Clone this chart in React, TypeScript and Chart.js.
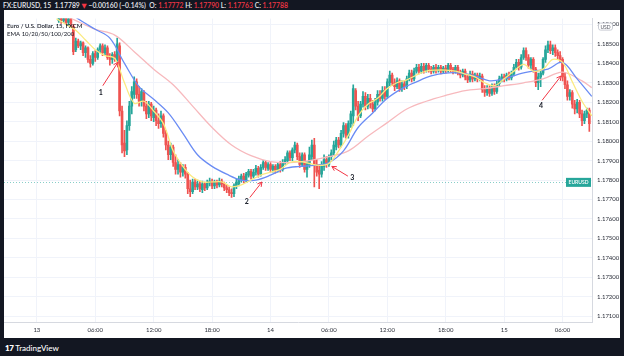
import React, { useEffect, useRef } from "react";
import { Chart, registerables } from "chart.js";
Chart.register(...registerables);

// 15-minute candles, index counted in quarter hours from 13th 00:00
const FIRST_INDEX = 9;
const timeTickIndex = [0, 24, 48, 72, 96, 120, 144, 168, 192, 216];
const timeTickLabels = ["13", "06:00", "12:00", "18:00", "14", "06:00", "12:00", "18:00", "15", "06:00"];
const priceTicks = [1.171, 1.172, 1.173, 1.174, 1.175, 1.176, 1.177, 1.178, 1.179, 1.18, 1.181, 1.182, 1.183, 1.184, 1.185, 1.186];
const LAST_PRICE = 1.17788;

const open = [
  1.18620, 1.18640, 1.18620, 1.18635, 1.18610, 1.18630, 1.18590, 1.18470, 1.18515, 1.18490,
  1.18505, 1.18455, 1.18480, 1.18420, 1.18400, 1.18450, 1.18430, 1.18470, 1.18490, 1.18455,
  1.18480, 1.18430, 1.18420, 1.18445, 1.18420, 1.18490, 1.18155, 1.17990, 1.17955, 1.18080,
  1.18180, 1.18240, 1.18305, 1.18240, 1.18205, 1.18250, 1.18180, 1.18140, 1.18190, 1.18120,
  1.18160, 1.18105, 1.18090, 1.18130, 1.18040, 1.17980, 1.17930, 1.17970, 1.17890, 1.17855,
  1.17880, 1.17840, 1.17865, 1.17830, 1.17755, 1.17740, 1.17790, 1.17765, 1.17780, 1.17750,
  1.17780, 1.17760, 1.17785, 1.17795, 1.17770, 1.17790, 1.17775, 1.17795, 1.17780, 1.17760,
  1.17750, 1.17735, 1.17730, 1.17770, 1.17780, 1.17800, 1.17820, 1.17800, 1.17825, 1.17845,
  1.17820, 1.17840, 1.17860, 1.17830, 1.17865, 1.17890, 1.17860, 1.17880, 1.17855, 1.17870,
  1.17850, 1.17880, 1.17855, 1.17890, 1.17900, 1.17940, 1.17915, 1.17955, 1.17980, 1.17920,
  1.17880, 1.17930, 1.17855, 1.17880, 1.17920, 1.17980, 1.17880, 1.17850, 1.17830, 1.17870,
  1.17905, 1.17880, 1.17920, 1.17940, 1.17970, 1.18005, 1.17980, 1.18040, 1.18080, 1.18030,
  1.18090, 1.18130, 1.18260, 1.18180, 1.18130, 1.18190, 1.18230, 1.18180, 1.18220, 1.18190,
  1.18165, 1.18200, 1.18240, 1.18220, 1.18260, 1.18230, 1.18300, 1.18340, 1.18300, 1.18280,
  1.18310, 1.18270, 1.18295, 1.18280, 1.18320, 1.18350, 1.18320, 1.18360, 1.18380, 1.18360,
  1.18385, 1.18365, 1.18390, 1.18370, 1.18360, 1.18380, 1.18365, 1.18380, 1.18360, 1.18375,
  1.18365, 1.18390, 1.18370, 1.18360, 1.18380, 1.18350, 1.18340, 1.18360, 1.18330, 1.18315,
  1.18345, 1.18320, 1.18340, 1.18320, 1.18335, 1.18265, 1.18250, 1.18270, 1.18245, 1.18280,
  1.18255, 1.18295, 1.18320, 1.18330, 1.18320, 1.18340, 1.18325, 1.18345, 1.18380, 1.18405,
  1.18380, 1.18430, 1.18465, 1.18430, 1.18390, 1.18420, 1.18370, 1.18300, 1.18330, 1.18350,
  1.18420, 1.18470, 1.18495, 1.18465, 1.18480, 1.18455, 1.18440, 1.18420, 1.18330, 1.18290,
  1.18230, 1.18250, 1.18190, 1.18165, 1.18200, 1.18140, 1.18105, 1.18140, 1.18160,
];

const close = [
  1.18640, 1.18620, 1.18635, 1.18610, 1.18630, 1.18605, 1.18460, 1.18515, 1.18490, 1.18505,
  1.18455, 1.18480, 1.18420, 1.18400, 1.18450, 1.18430, 1.18470, 1.18490, 1.18455, 1.18480,
  1.18430, 1.18420, 1.18445, 1.18430, 1.18500, 1.18155, 1.17980, 1.17950, 1.18080, 1.18180,
  1.18255, 1.18305, 1.18240, 1.18205, 1.18255, 1.18180, 1.18140, 1.18190, 1.18130, 1.18160,
  1.18105, 1.18090, 1.18130, 1.18040, 1.17980, 1.17930, 1.17970, 1.17890, 1.17855, 1.17880,
  1.17840, 1.17865, 1.17830, 1.17755, 1.17740, 1.17790, 1.17765, 1.17780, 1.17755, 1.17780,
  1.17760, 1.17785, 1.17795, 1.17770, 1.17790, 1.17775, 1.17795, 1.17780, 1.17760, 1.17750,
  1.17735, 1.17730, 1.17770, 1.17790, 1.17805, 1.17820, 1.17800, 1.17830, 1.17845, 1.17820,
  1.17840, 1.17860, 1.17830, 1.17865, 1.17890, 1.17865, 1.17880, 1.17855, 1.17870, 1.17850,
  1.17880, 1.17855, 1.17890, 1.17905, 1.17940, 1.17915, 1.17955, 1.17980, 1.17920, 1.17880,
  1.17930, 1.17855, 1.17880, 1.17930, 1.17980, 1.17880, 1.17840, 1.17830, 1.17880, 1.17905,
  1.17880, 1.17920, 1.17940, 1.17980, 1.18005, 1.17980, 1.18040, 1.18080, 1.18030, 1.18090,
  1.18140, 1.18270, 1.18180, 1.18130, 1.18190, 1.18230, 1.18180, 1.18220, 1.18190, 1.18165,
  1.18200, 1.18240, 1.18220, 1.18260, 1.18230, 1.18305, 1.18340, 1.18300, 1.18280, 1.18310,
  1.18270, 1.18295, 1.18280, 1.18320, 1.18350, 1.18320, 1.18360, 1.18380, 1.18360, 1.18385,
  1.18365, 1.18390, 1.18370, 1.18360, 1.18380, 1.18365, 1.18380, 1.18360, 1.18375, 1.18365,
  1.18390, 1.18370, 1.18360, 1.18380, 1.18350, 1.18340, 1.18360, 1.18330, 1.18315, 1.18345,
  1.18320, 1.18340, 1.18320, 1.18335, 1.18265, 1.18250, 1.18270, 1.18245, 1.18280, 1.18255,
  1.18295, 1.18320, 1.18330, 1.18320, 1.18340, 1.18325, 1.18345, 1.18380, 1.18405, 1.18380,
  1.18430, 1.18465, 1.18430, 1.18390, 1.18420, 1.18370, 1.18300, 1.18330, 1.18350, 1.18420,
  1.18470, 1.18495, 1.18465, 1.18480, 1.18455, 1.18440, 1.18420, 1.18330, 1.18290, 1.18230,
  1.18250, 1.18190, 1.18165, 1.18200, 1.18140, 1.18105, 1.18140, 1.18160, 1.18090,
];

const high = [
  1.18655, 1.18650, 1.18650, 1.18645, 1.18640, 1.18640, 1.18600, 1.18530, 1.18525, 1.18515,
  1.18510, 1.18490, 1.18485, 1.18440, 1.18460, 1.18465, 1.18480, 1.18500, 1.18500, 1.18495,
  1.18490, 1.18450, 1.18455, 1.18460, 1.18530, 1.18505, 1.18180, 1.18055, 1.18105, 1.18205,
  1.18280, 1.18330, 1.18320, 1.18280, 1.18270, 1.18260, 1.18205, 1.18205, 1.18200, 1.18180,
  1.18170, 1.18140, 1.18155, 1.18140, 1.18055, 1.18000, 1.17990, 1.17980, 1.17930, 1.17905,
  1.17890, 1.17880, 1.17880, 1.17840, 1.17800, 1.17805, 1.17805, 1.17800, 1.17795, 1.17795,
  1.17790, 1.17800, 1.17810, 1.17805, 1.17800, 1.17800, 1.17810, 1.17805, 1.17790, 1.17775,
  1.17765, 1.17755, 1.17780, 1.17805, 1.17820, 1.17830, 1.17835, 1.17840, 1.17855, 1.17855,
  1.17855, 1.17875, 1.17870, 1.17880, 1.17900, 1.17900, 1.17890, 1.17890, 1.17880, 1.17880,
  1.17890, 1.17895, 1.17905, 1.17920, 1.17950, 1.17950, 1.17965, 1.17995, 1.17990, 1.17940,
  1.17940, 1.17940, 1.17895, 1.17970, 1.18005, 1.18015, 1.17905, 1.17880, 1.17895, 1.17930,
  1.17920, 1.17930, 1.17955, 1.18000, 1.18020, 1.18020, 1.18055, 1.18095, 1.18090, 1.18105,
  1.18155, 1.18290, 1.18270, 1.18205, 1.18205, 1.18255, 1.18250, 1.18240, 1.18240, 1.18210,
  1.18220, 1.18260, 1.18260, 1.18280, 1.18280, 1.18320, 1.18360, 1.18350, 1.18320, 1.18325,
  1.18320, 1.18310, 1.18310, 1.18335, 1.18365, 1.18365, 1.18375, 1.18395, 1.18395, 1.18400,
  1.18400, 1.18400, 1.18400, 1.18385, 1.18390, 1.18395, 1.18390, 1.18390, 1.18385, 1.18390,
  1.18400, 1.18400, 1.18380, 1.18390, 1.18390, 1.18365, 1.18370, 1.18370, 1.18345, 1.18360,
  1.18360, 1.18350, 1.18350, 1.18350, 1.18345, 1.18285, 1.18285, 1.18285, 1.18295, 1.18295,
  1.18310, 1.18335, 1.18345, 1.18345, 1.18350, 1.18355, 1.18360, 1.18395, 1.18420, 1.18420,
  1.18445, 1.18480, 1.18480, 1.18445, 1.18430, 1.18430, 1.18380, 1.18350, 1.18365, 1.18430,
  1.18490, 1.18515, 1.18515, 1.18495, 1.18495, 1.18470, 1.18460, 1.18430, 1.18350, 1.18310,
  1.18265, 1.18260, 1.18210, 1.18215, 1.18210, 1.18160, 1.18155, 1.18170, 1.18170,
];

const low = [
  1.18610, 1.18605, 1.18610, 1.18600, 1.18595, 1.18590, 1.18445, 1.18460, 1.18480, 1.18470,
  1.18440, 1.18430, 1.18405, 1.18380, 1.18390, 1.18410, 1.18420, 1.18455, 1.18440, 1.18445,
  1.18420, 1.18390, 1.18400, 1.18410, 1.18410, 1.18130, 1.17940, 1.17920, 1.17930, 1.18055,
  1.18140, 1.18220, 1.18220, 1.18180, 1.18180, 1.18155, 1.18115, 1.18120, 1.18105, 1.18100,
  1.18080, 1.18065, 1.18070, 1.18020, 1.17955, 1.17905, 1.17905, 1.17870, 1.17830, 1.17830,
  1.17815, 1.17820, 1.17810, 1.17730, 1.17715, 1.17730, 1.17750, 1.17750, 1.17740, 1.17735,
  1.17745, 1.17750, 1.17770, 1.17755, 1.17755, 1.17760, 1.17765, 1.17765, 1.17745, 1.17735,
  1.17720, 1.17710, 1.17715, 1.17755, 1.17770, 1.17790, 1.17785, 1.17790, 1.17815, 1.17805,
  1.17810, 1.17825, 1.17815, 1.17820, 1.17855, 1.17850, 1.17850, 1.17840, 1.17840, 1.17835,
  1.17840, 1.17840, 1.17845, 1.17880, 1.17885, 1.17900, 1.17900, 1.17940, 1.17905, 1.17865,
  1.17870, 1.17840, 1.17815, 1.17865, 1.17905, 1.17765, 1.17820, 1.17755, 1.17815, 1.17850,
  1.17865, 1.17870, 1.17905, 1.17930, 1.17955, 1.17965, 1.17970, 1.18020, 1.18015, 1.18015,
  1.18070, 1.18080, 1.18160, 1.18105, 1.18120, 1.18175, 1.18160, 1.18165, 1.18170, 1.18150,
  1.18155, 1.18185, 1.18205, 1.18205, 1.18215, 1.18220, 1.18285, 1.18285, 1.18260, 1.18270,
  1.18255, 1.18255, 1.18265, 1.18270, 1.18310, 1.18305, 1.18310, 1.18350, 1.18345, 1.18350,
  1.18350, 1.18355, 1.18355, 1.18345, 1.18350, 1.18350, 1.18355, 1.18345, 1.18350, 1.18350,
  1.18355, 1.18355, 1.18345, 1.18350, 1.18340, 1.18325, 1.18330, 1.18315, 1.18300, 1.18305,
  1.18305, 1.18310, 1.18305, 1.18310, 1.18250, 1.18230, 1.18235, 1.18230, 1.18235, 1.18240,
  1.18245, 1.18285, 1.18305, 1.18305, 1.18310, 1.18315, 1.18315, 1.18335, 1.18370, 1.18365,
  1.18370, 1.18420, 1.18415, 1.18375, 1.18370, 1.18355, 1.18280, 1.18265, 1.18280, 1.18340,
  1.18405, 1.18455, 1.18450, 1.18445, 1.18435, 1.18420, 1.18405, 1.18310, 1.18270, 1.18210,
  1.18210, 1.18170, 1.18140, 1.18145, 1.18120, 1.18080, 1.18090, 1.18120, 1.18050,
];

// EMA curves
const emaSlowIdx = [0, 8, 16, 24, 32, 40, 48, 56, 64, 72, 80, 88, 96, 104, 112, 120, 128, 136, 144, 152, 160, 168, 176, 184, 192, 200, 208, 216, 224, 228];
const emaSlow = [1.18720, 1.18668, 1.18620, 1.18575, 1.18545, 1.18460, 1.18370, 1.18290, 1.18180, 1.18070, 1.17980, 1.17925, 1.17895, 1.17890, 1.17900, 1.17920, 1.17950, 1.18025, 1.18095, 1.18165, 1.18205, 1.18235, 1.18260, 1.18270, 1.18285, 1.18300, 1.18320, 1.18355, 1.18310, 1.18275];

const emaMidIdx = [6, 12, 18, 24, 30, 36, 42, 48, 54, 60, 66, 72, 78, 84, 90, 96, 102, 108, 114, 120, 126, 132, 138, 144, 150, 156, 162, 168, 174, 180, 186, 192, 198, 204, 210, 216, 222, 228];
const emaMid = [1.18705, 1.18670, 1.18620, 1.18575, 1.18530, 1.18400, 1.18280, 1.18215, 1.18145, 1.18040, 1.17930, 1.17870, 1.17830, 1.17800, 1.17800, 1.17825, 1.17860, 1.17870, 1.17875, 1.17890, 1.17950, 1.18070, 1.18145, 1.18220, 1.18270, 1.18305, 1.18335, 1.18350, 1.18350, 1.18335, 1.18310, 1.18320, 1.18345, 1.18360, 1.18370, 1.18405, 1.18320, 1.18230];

const emaFastIdx = [8, 12, 16, 20, 24, 28, 32, 36, 40, 44, 48, 52, 56, 60, 64, 68, 72, 76, 80, 84, 88, 92, 96, 100, 104, 108, 112, 116, 120, 124, 128, 132, 136, 140, 144, 148, 152, 156, 160, 164, 168, 172, 176, 180, 184, 188, 192, 196, 200, 204, 208, 212, 216, 220, 224, 228];
const emaFast = [1.18630, 1.18600, 1.18570, 1.18520, 1.18470, 1.18440, 1.18425, 1.18300, 1.18195, 1.18205, 1.18155, 1.18090, 1.17950, 1.17870, 1.17815, 1.17790, 1.17790, 1.17790, 1.17765, 1.17775, 1.17800, 1.17825, 1.17840, 1.17855, 1.17890, 1.17895, 1.17885, 1.17875, 1.17885, 1.17950, 1.18030, 1.18130, 1.18190, 1.18220, 1.18270, 1.18300, 1.18315, 1.18340, 1.18360, 1.18365, 1.18365, 1.18360, 1.18345, 1.18330, 1.18300, 1.18285, 1.18320, 1.18360, 1.18395, 1.18360, 1.18370, 1.18420, 1.18405, 1.18305, 1.18205, 1.18130];

// annotation arrows (data space)
const arrowText = ["1", "2", "3", "4"];
const arrowTipIdx = [33.3, 92.5, 121.2, 215.4];
const arrowTipPrice = [1.18405, 1.1779, 1.1787, 1.18335];
const arrowTailIdx = [27.1, 87.5, 127.8, 207.6];
const arrowTailPrice = [1.18285, 1.1771, 1.1782, 1.1821];
const arrowLabelIdx = [26.3, 86.3, 129.6, 207.2];
const arrowLabelPrice = [1.1825, 1.1769, 1.1781, 1.18182];

const X_MIN = -13.5;
const X_MAX = 228.1;
const Y_MIN = 1.1707;
const Y_MAX = 1.1863;

const UP = "#26a69a";
const DOWN = "#ef5350";
const FONT = 'Lato, "Open Sans", "DejaVu Sans", sans-serif';

export default function App() {
  const ref = useRef<HTMLCanvasElement | null>(null);

  useEffect(() => {
    document.body.style.margin = "0";
    const canvas = ref.current;
    if (!canvas) return;
    const idx = open.map((_, k) => FIRST_INDEX + k);
    const colors = open.map((o, k) => (close[k] >= o ? UP : DOWN));

    const overlay = {
      id: "overlay",
      beforeDatasetsDraw(chart: any) {
        const { ctx, chartArea: a, scales } = chart;
        const py = Math.round(scales.y.getPixelForValue(LAST_PRICE)) + 0.5;
        ctx.save();
        ctx.strokeStyle = "rgba(38,166,154,0.55)";
        ctx.lineWidth = 1;
        ctx.setLineDash([1, 2]);
        ctx.beginPath();
        ctx.moveTo(a.left, py);
        ctx.lineTo(a.right, py);
        ctx.stroke();
        ctx.restore();
      },
      afterDraw(chart: any) {
        const { ctx, chartArea: a, scales } = chart;
        const xs = scales.x;
        const ys = scales.y;
        ctx.save();
        // legend
        ctx.fillStyle = "#131722";
        ctx.textAlign = "left";
        ctx.textBaseline = "middle";
        ctx.font = `600 6px ${FONT}`;
        ctx.fillText("Euro / U.S. Dollar, 15, FXCM", a.left + 3, a.top + 7.5);
        ctx.font = `400 6px ${FONT}`;
        ctx.fillText("EMA 10/20/50/100/200", a.left + 3, a.top + 15);
        // arrows
        for (let k = 0; k < arrowText.length; k++) {
          const tx = xs.getPixelForValue(arrowTipIdx[k]);
          const ty = ys.getPixelForValue(arrowTipPrice[k]);
          const sx = xs.getPixelForValue(arrowTailIdx[k]);
          const sy = ys.getPixelForValue(arrowTailPrice[k]);
          ctx.strokeStyle = "#f23645";
          ctx.lineWidth = 1;
          ctx.beginPath();
          ctx.moveTo(sx, sy);
          ctx.lineTo(tx, ty);
          const ang = Math.atan2(ty - sy, tx - sx);
          const hl = 5;
          ctx.moveTo(tx, ty);
          ctx.lineTo(tx - hl * Math.cos(ang - 0.5), ty - hl * Math.sin(ang - 0.5));
          ctx.moveTo(tx, ty);
          ctx.lineTo(tx - hl * Math.cos(ang + 0.5), ty - hl * Math.sin(ang + 0.5));
          ctx.stroke();
          ctx.fillStyle = "#131722";
          ctx.font = `700 7px ${FONT}`;
          ctx.textAlign = "center";
          ctx.fillText(arrowText[k], xs.getPixelForValue(arrowLabelIdx[k]), ys.getPixelForValue(arrowLabelPrice[k]));
        }
        // last price label
        const py = ys.getPixelForValue(LAST_PRICE);
        ctx.fillStyle = UP;
        ctx.fillRect(a.right - 26, py - 4.5, 25, 9);
        ctx.fillStyle = "#ffffff";
        ctx.font = `600 5px ${FONT}`;
        ctx.textAlign = "center";
        ctx.fillText("EURUSD", a.right - 13.5, py + 0.3);
        // currency badge
        const bx = a.right + 6;
        const by = a.top + 4;
        ctx.fillStyle = "#ffffff";
        ctx.strokeStyle = "#c9ccd4";
        ctx.lineWidth = 1;
        ctx.beginPath();
        ctx.roundRect(bx + 0.5, by + 0.5, 14, 7, 2);
        ctx.fill();
        ctx.stroke();
        ctx.fillStyle = "#50535e";
        ctx.font = `400 5px ${FONT}`;
        ctx.fillText("USD", bx + 7.5, by + 4.3);
        ctx.restore();
      },
    };

    const chart = new Chart(canvas, {
      type: "bar",
      data: {
        datasets: [
          {
            type: "line",
            data: emaFastIdx.map((v, k) => ({ x: v, y: emaFast[k] })),
            borderColor: "#fbea80",
            borderWidth: 1.3,
            pointRadius: 0,
            tension: 0.35,
            fill: false,
            order: 0,
          } as any,
          {
            type: "line",
            data: emaMidIdx.map((v, k) => ({ x: v, y: emaMid[k] })),
            borderColor: "#6a8cf4",
            borderWidth: 1.3,
            pointRadius: 0,
            tension: 0.35,
            fill: false,
            order: 0,
          } as any,
          {
            type: "line",
            data: emaSlowIdx.map((v, k) => ({ x: v, y: emaSlow[k] })),
            borderColor: "#f7b9bd",
            borderWidth: 1.3,
            pointRadius: 0,
            tension: 0.35,
            fill: false,
            order: 0,
          } as any,
          {
            type: "bar",
            data: idx.map((v, k) => ({ x: v, y: [open[k], close[k]] })),
            backgroundColor: colors,
            barThickness: 2,
            minBarLength: 1,
            grouped: false,
            borderWidth: 0,
            order: 1,
          } as any,
          {
            type: "bar",
            data: idx.map((v, k) => ({ x: v, y: [low[k], high[k]] })),
            backgroundColor: colors,
            barThickness: 1,
            grouped: false,
            borderWidth: 0,
            order: 2,
          } as any,
        ],
      },
      options: {
        animation: false,
        responsive: false,
        devicePixelRatio: 1,
        events: [],
        layout: { padding: 0 },
        plugins: { legend: { display: false }, tooltip: { enabled: false } },
        scales: {
          x: {
            type: "linear",
            min: X_MIN,
            max: X_MAX,
            offset: false,
            grid: { color: "#f0f3fa", drawTicks: false, offset: false },
            border: { display: true, color: "#d6d9e0" },
            afterBuildTicks: (s: any) => {
              s.ticks = timeTickIndex.map((v) => ({ value: v }));
            },
            afterFit: (s: any) => {
              s.height = 16;
            },
            ticks: {
              autoSkip: false,
              maxRotation: 0,
              padding: 4,
              color: "#2a2e39",
              font: { size: 6, family: FONT },
              callback: (v: any) => timeTickLabels[timeTickIndex.indexOf(Number(v))] ?? "",
            },
          },
          y: {
            type: "linear",
            position: "right",
            min: Y_MIN,
            max: Y_MAX,
            grid: { color: "#f0f3fa", drawTicks: false },
            border: { display: true, color: "#d6d9e0" },
            afterBuildTicks: (s: any) => {
              s.ticks = priceTicks.map((v) => ({ value: v }));
            },
            afterFit: (s: any) => {
              s.width = 28;
            },
            ticks: {
              padding: 5,
              color: "#2a2e39",
              font: { size: 6, family: FONT },
              callback: (v: any) => Number(v).toFixed(5),
            },
          },
        },
      } as any,
      plugins: [overlay],
    });
    return () => chart.destroy();
  }, []);

  const red = { color: "#f23645" };
  return (
    <div style={{ position: "fixed", left: 0, top: 0, width: 624, height: 356, background: "#131722", overflow: "hidden", fontFamily: FONT }}>
      <div style={{ position: "absolute", left: 3, top: 0, height: 10, lineHeight: "10px", fontSize: 6.8, fontWeight: 600, color: "#e8eaf0", whiteSpace: "nowrap" }}>
        FX:EURUSD, 15&nbsp; 1.17789 <span style={red}>▼</span> −0.00160 (−0.14%)&nbsp; O: <span style={red}>1.17772</span> H: <span style={red}>1.17790</span> L: <span style={red}>1.17763</span> C: <span style={red}>1.17788</span>
      </div>
      <canvas ref={ref} width={616} height={328} style={{ position: "absolute", left: 4, top: 10, width: 616, height: 328, background: "#ffffff" }} />
      <div style={{ position: "absolute", left: 5, top: 340, height: 16, lineHeight: "16px", fontSize: 8, color: "#ffffff", whiteSpace: "nowrap" }}>
        <span style={{ fontWeight: 800, letterSpacing: -0.5 }}>17</span>&nbsp;<span style={{ fontWeight: 500 }}>TradingView</span>
      </div>
    </div>
  );
}
